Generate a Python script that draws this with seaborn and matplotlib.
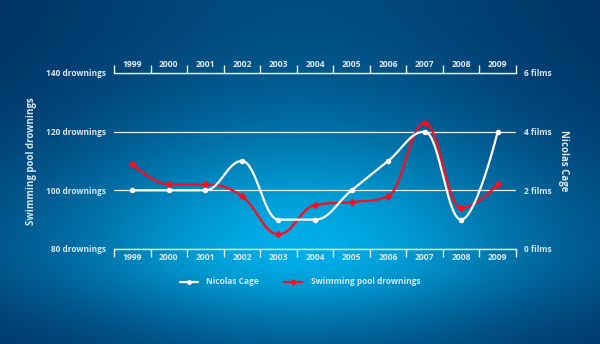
import numpy as np
import matplotlib
matplotlib.use("Agg")
import matplotlib.pyplot as plt
from matplotlib.lines import Line2D
import seaborn as sns

# ---- data -------------------------------------------------------------
years = ["1999", "2000", "2001", "2002", "2003", "2004",
         "2005", "2006", "2007", "2008", "2009"]
cage_films = [2, 2, 2, 3, 1, 1, 2, 3, 4, 1, 4]
pool_drownings = [109, 102, 102, 98, 85, 95, 96, 98, 123, 94, 102]

drown_ticks = [80, 100, 120, 140]
drown_labels = ["80 drownings", "100 drownings", "120 drownings", "140 drownings"]
film_ticks = [0, 2, 4, 6]
film_labels = ["0 films", "2 films", "4 films", "6 films"]

TEXT = "#dce7f0"
RED = "#ff0a1e"
WHITE = "#ffffff"

sns.set_theme(style="white")
plt.rcParams["font.family"] = ["Open Sans", "DejaVu Sans"]


def smooth_path(xs, ys, smoothing=1.5, steps=40):
    """Cubic Bezier spline with clamped control points (no false extremes)."""
    xs = np.asarray(xs, float)
    ys = np.asarray(ys, float)
    n = len(xs)
    lcx, lcy = xs.copy(), ys.copy()
    rcx, rcy = xs.copy(), ys.copy()
    d = smoothing + 1
    for i in range(1, n - 1):
        px, py = xs[i], ys[i]
        lx, ly = xs[i - 1], ys[i - 1]
        nx, ny = xs[i + 1], ys[i + 1]
        a_x = (smoothing * px + lx) / d
        a_y = (smoothing * py + ly) / d
        b_x = (smoothing * px + nx) / d
        b_y = (smoothing * py + ny) / d
        corr = 0.0
        if b_x != a_x:
            corr = (b_y - a_y) * (b_x - px) / (b_x - a_x) + py - b_y
        a_y += corr
        b_y += corr
        if a_y > ly and a_y > py:
            a_y = max(ly, py); b_y = 2 * py - a_y
        elif a_y < ly and a_y < py:
            a_y = min(ly, py); b_y = 2 * py - a_y
        if b_y > ny and b_y > py:
            b_y = max(ny, py); a_y = 2 * py - b_y
        elif b_y < ny and b_y < py:
            b_y = min(ny, py); a_y = 2 * py - b_y
        lcx[i], lcy[i], rcx[i], rcy[i] = a_x, a_y, b_x, b_y
    t = np.linspace(0, 1, steps)[:, None]
    out_x, out_y = [xs[:1]], [ys[:1]]
    for i in range(1, n):
        P = np.array([[xs[i - 1], ys[i - 1]], [rcx[i - 1], rcy[i - 1]],
                      [lcx[i], lcy[i]], [xs[i], ys[i]]])
        B = ((1 - t) ** 3) * P[0] + 3 * ((1 - t) ** 2) * t * P[1] \
            + 3 * (1 - t) * t ** 2 * P[2] + t ** 3 * P[3]
        out_x.append(B[1:, 0])
        out_y.append(B[1:, 1])
    return np.concatenate(out_x), np.concatenate(out_y)


W, H = 600, 344
fig = plt.figure(figsize=(W / 100, H / 100), dpi=100)

# ---- background glow ---------------------------------------------------
bg = fig.add_axes([0, 0, 1, 1])
gx, gy = np.meshgrid(np.arange(W), np.arange(H))
sig_y = np.where(gy < 250, 125.0, 75.0)
v = 0.27 + 0.73 * np.exp(-((gy - 250) / sig_y) ** 2)
h = 0.2 + 0.8 * np.exp(-((gx - 300) / 240.0) ** 2)
f = np.clip(v * h, 0, 1)[..., None]
dark = np.array([0, 38, 88]) / 255
bright = np.array([0, 174, 232]) / 255
img = dark + (bright - dark) * f
bg.imshow(img, aspect="auto", extent=[0, W, H, 0])
bg.set_axis_off()

# ---- main axes ---------------------------------------------------------
ax = fig.add_axes([114 / W, 1 - 249 / H, (516 - 114) / W, (249 - 73) / H])
ax.patch.set_alpha(0)
ax2 = ax.twinx()
ax2.patch.set_alpha(0)

pos = np.arange(len(years))

# drownings (left scale)
dx, dy = smooth_path(pos, pool_drownings)
sns.lineplot(x=dx, y=dy, ax=ax, color=RED, lw=1.6, sort=False, estimator=None)
sns.scatterplot(x=pos, y=pool_drownings, ax=ax, color=RED, marker="D",
                s=16, edgecolor=RED, linewidth=0, zorder=5)

# films (right scale)
cx, cy = smooth_path(pos, cage_films)
sns.lineplot(x=cx, y=cy, ax=ax2, color=WHITE, lw=1.6, sort=False, estimator=None)
sns.scatterplot(x=pos, y=cage_films, ax=ax2, color=WHITE, marker="o",
                s=16, edgecolor=WHITE, linewidth=0, zorder=5)

ax.set_xlim(-0.5, len(years) - 0.5)
ax.set_ylim(80, 140)
ax2.set_ylim(0, 6)

# y scales
ax.set_yticks(drown_ticks)
ax.set_yticklabels(drown_labels)
ax2.set_yticks(film_ticks)
ax2.set_yticklabels(film_labels)
for a in (ax, ax2):
    a.tick_params(axis="y", length=0, pad=6, labelsize=6, labelcolor=TEXT)
    for lab in a.get_yticklabels():
        lab.set_fontweight("bold")
    for s in ("left", "right", "top", "bottom"):
        a.spines[s].set_visible(False)
    a.set_xlabel("")

# top/bottom axis lines and year bands
for s in ("top", "bottom"):
    ax.spines[s].set_visible(True)
    ax.spines[s].set_color("#e6eef5")
    ax.spines[s].set_linewidth(1.0)

ax.set_xticks(pos)
ax.set_xticklabels(years)
ax.set_xticks(np.arange(-0.5, len(years)), minor=True)
ax.tick_params(axis="x", which="major", length=0, top=True, labeltop=True,
               bottom=True, labelbottom=True, labelsize=6.2, labelcolor=TEXT,
               pad=3)
ax.tick_params(axis="x", which="minor", length=6, width=1, color="#e6eef5",
               top=True, bottom=True, direction="out")
for lab in ax.get_xticklabels():
    lab.set_fontweight("bold")

# gridlines
ax.grid(False)
ax2.grid(False)
ax.yaxis.grid(True, color="#e8eef4", lw=0.9)
ax.set_axisbelow(True)

# axis titles
ax.set_ylabel("Swimming pool drownings", color=TEXT, fontsize=7,
              fontweight="bold", labelpad=6)
ax2.set_ylabel("Nicolas Cage", color=TEXT, fontsize=7, fontweight="bold",
               rotation=-90, labelpad=12)

# legend
handles = [
    Line2D([], [], color=WHITE, lw=1.6, marker="o", ms=3.5, markeredgewidth=0),
    Line2D([], [], color=RED, lw=1.6, marker="D", ms=3.5, markeredgewidth=0),
]
leg = fig.legend(handles, ["Nicolas Cage", "Swimming pool drownings"],
                 loc="center", bbox_to_anchor=(0.5, 1 - 282 / H), ncol=2,
                 frameon=False, fontsize=6, handlelength=2.2, columnspacing=3,
                 handletextpad=1.0)
for t in leg.get_texts():
    t.set_color(TEXT)
    t.set_fontweight("bold")

fig.savefig("out.png", dpi=100)
